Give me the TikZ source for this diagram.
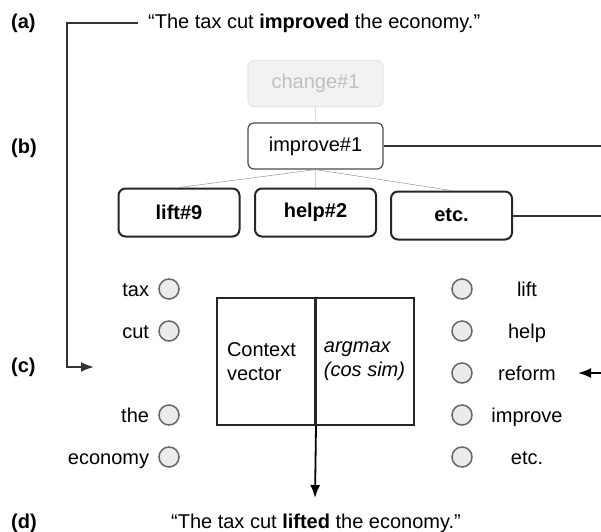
\documentclass[tikz,border=0pt]{standalone}
\usepackage{fontspec}
\setmainfont{Liberation Sans}
\usetikzlibrary{arrows.meta,positioning}
\newcommand{\diagfont}{\fontsize{20}{24}\selectfont}

\tikzset{
  sense/.style={draw=black!70, line width=1.2pt, rounded corners=6pt, minimum width=135pt, minimum height=46pt, fill=white},
  hypo/.style={draw=black!85, line width=2pt, rounded corners=7pt, minimum width=121pt, minimum height=48pt, font=\diagfont\bfseries},
  dot/.style={circle, draw=black!60, fill=black!8, line width=1.5pt, minimum size=20pt, inner sep=0pt},
  word/.style={text height=14.3pt, text depth=0pt, inner sep=0pt},
  tag/.style={font=\diagfont\bfseries, anchor=west, inner sep=0pt},
  half/.style={draw=black!85, line width=2pt, minimum width=98pt, minimum height=127pt, align=left},
  wire/.style={line width=2pt, draw=black!80},
  arr/.style={-{Latex[length=13pt,width=10pt]}, line width=1.8pt},
}

\begin{document}
\begin{tikzpicture}[x=1pt, y=-1pt, font=\diagfont]
	\useasboundingbox (0,0) rectangle (601,531);
	\coordinate (edge) at (601,0);
	\node[tag] (la) at (11,23) {(a)};
	\node[tag] (lb) at (11,148) {(b)};
	\node[tag] (lc) at (11,367) {(c)};
	\node[tag] (ld) at (11,523) {(d)};
	\node[anchor=west, inner sep=0pt] (sa) at (148,23) {“The tax cut \textbf{improved} the economy.”};
	\node (sd) at (316,523) {“The tax cut \textbf{lifted} the economy.”};

	\node[sense, draw=black!10, fill=black!5, text=black!25] (chg) at (315.5,83.5) {change\#1};
	\node[sense] (imp) at (315.5,146) {improve\#1};
	\node[hypo] (lift) at (179,212.5) {lift\#9};
	\node[hypo] (help) at (315.5,212.5) {help\#2};
	\node[hypo] (etc) at (451.5,215.5) {etc.};
	\draw[black!15] (chg) -- (imp);
	\draw[black!50] (imp.south) -- (lift.north) (imp.south) -- (help.north) (imp.south) -- (etc.north);
	\draw[wire] (imp.east) -- (imp.east -| edge);
	\draw[wire] (etc.east) -- (etc.east -| edge);

	\node[half, text width=78pt] (ctx) at (266,361.5) {Context\\vector};
	\node[half, font=\diagfont\itshape] (agm) at (364.5,361.5) {argmax\\(cos sim)};

	\node[dot] (cl1) at (169,289) {};
	\node[dot] (cl2) at (169,331) {};
	\node[dot] (cl4) at (169,415) {};
	\node[dot] (cl5) at (169,457) {};
	\node[word, left=9pt of cl1] (wl1) {tax};
	\node[word, left=9pt of cl2] (wl2) {cut};
	\node[word, left=9pt of cl4] (wl4) {the};
	\node[word, left=9pt of cl5] (wl5) {economy};

	\node[dot] (cr1) at (462,289) {};
	\node[dot] (cr2) at (462,331) {};
	\node[dot] (cr3) at (462,373) {};
	\node[dot] (cr4) at (462,415) {};
	\node[dot] (cr5) at (462,457) {};
	\node[word] (wr1) at (527,289) {lift};
	\node[word] (wr2) at (527,331) {help};
	\node[word] (wr3) at (527,373) {reform};
	\node[word] (wr4) at (527,415) {improve};
	\node[word] (wr5) at (527,457) {etc.};

	\coordinate (cin) at (94,367);
	\coordinate (dtip) at (315,498);
	\draw[wire, arr, line width=2pt] ([xshift=-10pt]sa.west) -| ([xshift=-27pt]cin) -- (cin);
	\draw[arr] (wr3.east -| edge) -- ([xshift=22pt]wr3.east);
	\draw[arr] (ctx.south east) -- (dtip);
\end{tikzpicture}
\end{document}
